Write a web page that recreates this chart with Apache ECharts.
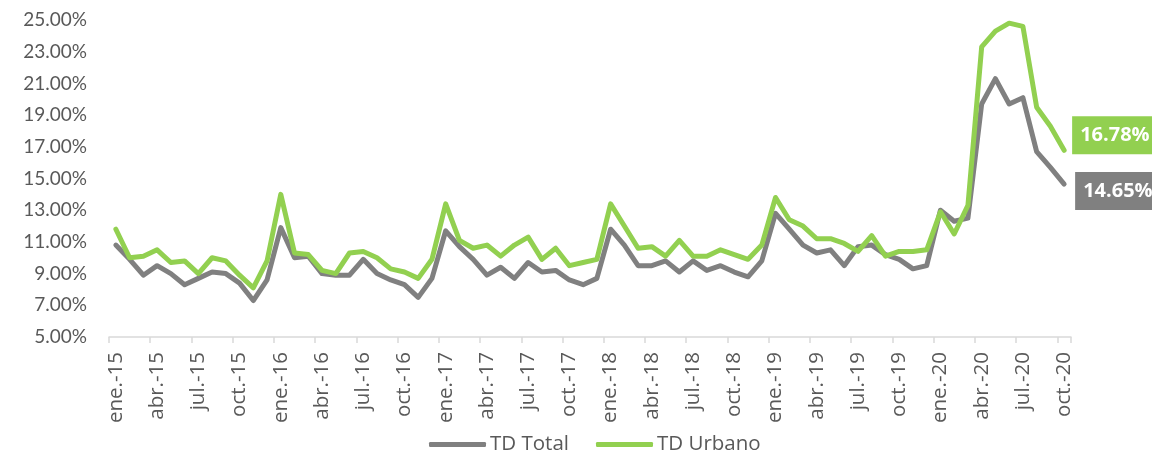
<!DOCTYPE html>
<html>
<head>
<meta charset="utf-8">
<script src="https://cdn.jsdelivr.net/npm/echarts@6/dist/echarts.min.js"></script>
<style>html,body{margin:0;padding:0;background:#fff;}#c{width:1152px;height:450px;}</style>
</head>
<body>
<div id="c"></div>
<script>
var monthNames = ['ene.','feb.','mar.','abr.','may.','jun.','jul.','ago.','sep.','oct.','nov.','dic.'];
var years = ['15','16','17','18','19','20'];
var categories = [];
years.forEach(function(y){ monthNames.forEach(function(m){ categories.push(m + '-' + y); }); });
categories = categories.slice(0, 70);

var tdTotal = [
  10.8, 9.9, 8.9, 9.5, 9.0, 8.3, 8.7, 9.1, 9.0, 8.4, 7.3, 8.6,
  11.9, 10.0, 10.1, 9.0, 8.9, 8.9, 9.9, 9.0, 8.6, 8.3, 7.5, 8.7,
  11.7, 10.7, 9.9, 8.9, 9.4, 8.7, 9.7, 9.1, 9.2, 8.6, 8.3, 8.7,
  11.8, 10.8, 9.5, 9.5, 9.8, 9.1, 9.8, 9.2, 9.5, 9.1, 8.8, 9.8,
  12.8, 11.8, 10.8, 10.3, 10.5, 9.5, 10.7, 10.8, 10.2, 9.9, 9.3, 9.5,
  13.0, 12.3, 12.5, 19.7, 21.3, 19.7, 20.1, 16.7, 15.7, 14.65
];
var tdUrbano = [
  11.8, 10.0, 10.1, 10.5, 9.7, 9.8, 9.0, 10.0, 9.8, 8.9, 8.1, 9.8,
  14.0, 10.3, 10.2, 9.2, 9.0, 10.3, 10.4, 10.0, 9.3, 9.1, 8.7, 9.9,
  13.4, 11.1, 10.6, 10.8, 10.1, 10.8, 11.3, 9.9, 10.6, 9.5, 9.7, 9.9,
  13.4, 12.0, 10.6, 10.7, 10.1, 11.1, 10.1, 10.1, 10.5, 10.2, 9.9, 10.8,
  13.8, 12.4, 12.0, 11.2, 11.2, 10.9, 10.4, 11.4, 10.1, 10.4, 10.4, 10.5,
  12.9, 11.5, 13.3, 23.3, 24.3, 24.8, 24.6, 19.5, 18.3, 16.78
];
var seriesNames = ['TD Total', 'TD Urbano'];

var FONT = '"Open Sans", Lato, sans-serif';
var FONT_Y = 'Lato, "Open Sans", sans-serif';
var chart = echarts.init(document.getElementById('c'), null, {renderer: 'canvas'});
chart.setOption({
  animation: false,
  backgroundColor: '#ffffff',
  grid: {left: 109, right: 81, top: 20, bottom: 113, containLabel: false, outerBoundsMode: 'none'},
  legend: {
    data: seriesNames,
    left: 424, top: 429,
    icon: 'roundRect', itemWidth: 57, itemHeight: 5, itemGap: 27,
    textStyle: {fontFamily: FONT, fontSize: 20.5, color: '#595959', padding: [0, 0, 0, -1]}
  },
  xAxis: {
    type: 'category',
    data: categories,
    boundaryGap: true,
    axisLine: {lineStyle: {color: '#d9d9d9', width: 1.5}},
    axisTick: {show: true, interval: 2, length: 6, lineStyle: {color: '#d9d9d9', width: 1.5}},
    axisLabel: {interval: 2, rotate: 90, fontFamily: FONT, fontSize: 20.5, color: '#595959', margin: 15},
    splitLine: {show: false}
  },
  yAxis: {
    type: 'value',
    min: 5, max: 25, interval: 2,
    axisLine: {show: false},
    axisTick: {show: false},
    splitLine: {show: false},
    axisLabel: {
      fontFamily: FONT_Y, fontSize: 19, color: '#595959', margin: 22,
      formatter: function(v){ return v.toFixed(2) + '%'; }
    }
  },
  series: [
    {
      name: seriesNames[0], type: 'line', data: tdTotal,
      symbol: 'none', z: 2,
      lineStyle: {color: '#808080', width: 5, cap: 'round', join: 'round'},
      itemStyle: {color: '#808080'},
      endLabel: {
        show: true, distance: 11, offset: [0, 7],
        formatter: function(p){ return p.value.toFixed(2) + '%'; },
        backgroundColor: '#808080', color: '#ffffff',
        fontFamily: FONT, fontSize: 20, fontWeight: 'bold',
        padding: [9, 8, 9, 8], lineHeight: 20
      }
    },
    {
      name: seriesNames[1], type: 'line', data: tdUrbano,
      symbol: 'none', z: 3,
      lineStyle: {color: '#92d050', width: 5, cap: 'round', join: 'round'},
      itemStyle: {color: '#92d050'},
      endLabel: {
        show: true, distance: 8, offset: [0, -15],
        formatter: function(p){ return p.value.toFixed(2) + '%'; },
        backgroundColor: '#92d050', color: '#ffffff',
        fontFamily: FONT, fontSize: 20, fontWeight: 'bold',
        padding: [9, 8, 9, 8], lineHeight: 20
      }
    }
  ]
});
</script>
</body>
</html>
